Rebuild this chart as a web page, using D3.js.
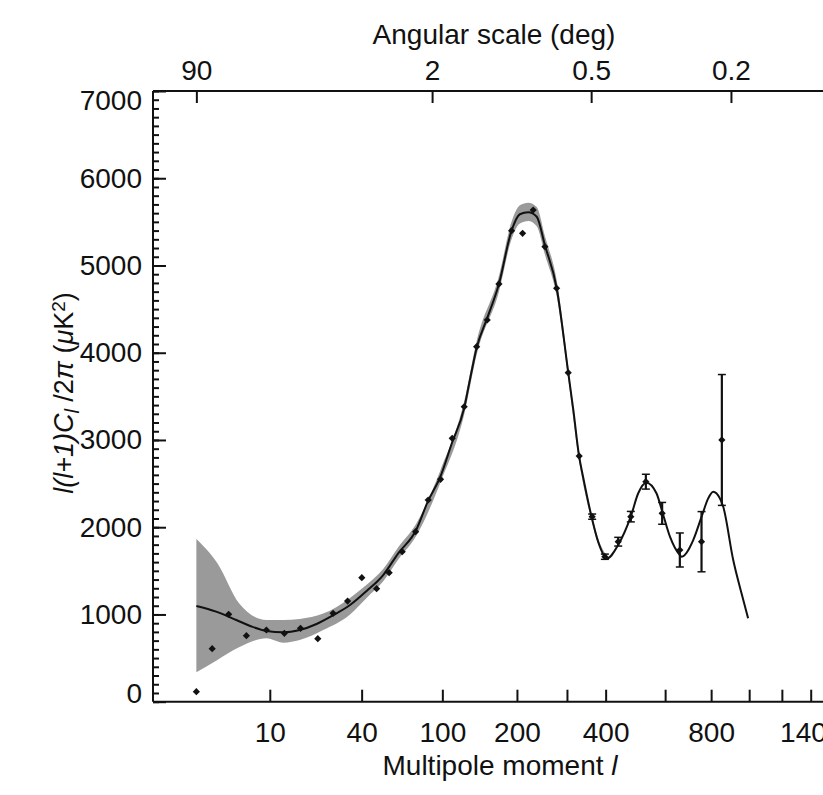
<!DOCTYPE html>
<html>
<head>
<meta charset="utf-8">
<script src="https://cdn.jsdelivr.net/npm/d3@7"></script>
<style>
  body { margin: 0; background: #fff; }
  text { font-family: "Liberation Sans Narrow", "Liberation Sans", Arial, sans-serif; fill: #111; }
</style>
</head>
<body>
<div class="chart"></div>
<script>
// model curve (multipole l, uK^2)
const curveL = [2, 3.3, 5.2, 6.9, 9.4, 12.7, 16.6, 21.5, 27.5, 34.4, 42.6, 52.2, 62.2, 76, 86, 98, 110, 124, 131, 140, 154, 171, 191, 205, 220, 236, 252, 277, 303, 315, 329, 339, 361, 379, 404, 437, 477, 502, 530, 567, 589, 619, 659, 667, 717, 755, 786, 810, 843, 860, 912, 957, 994];
const curveV = [1097, 1032, 936, 868, 810, 795, 822, 891, 994, 1108, 1269, 1452, 1701, 1968, 2293, 2579, 2962, 3363, 3688, 4069, 4400, 4788, 5400, 5587, 5610, 5559, 5235, 4739, 3771, 3344, 2816, 2579, 2121, 1834, 1643, 1796, 2121, 2389, 2510, 2389, 2178, 1891, 1682, 1662, 1853, 2121, 2331, 2407, 2331, 2235, 1624, 1242, 956];

// grey cosmic variance band
const bandL  = [2, 3.4, 5.5, 9.4, 12.7, 16.6, 23.7, 34.4, 42.6, 52.2, 62.2, 76, 98, 124, 140, 171, 191, 205, 220, 236, 252, 277, 303, 329, 361, 379, 404];
const bandLo = [337, 478, 623, 727, 677, 707, 822, 1000, 1190, 1380, 1630, 1900, 2510, 3290, 3990, 4700, 5300, 5480, 5510, 5450, 5130, 4650, 3700, 2760, 2080, 1800, 1620];
const bandHi = [1865, 1586, 1128, 936, 936, 948, 1010, 1190, 1340, 1520, 1770, 2040, 2650, 3440, 4150, 4880, 5500, 5690, 5720, 5670, 5340, 4830, 3840, 2870, 2160, 1870, 1670];

// binned data points
const pointL   = [2, 3, 4.4, 6.4, 9.4, 12.9, 16.8, 21.9, 27.3, 33.3, 40.1, 48.2, 56, 65.1, 75.5, 86.4, 98.2, 110.4, 124.1, 139.6, 153.9, 171, 191, 209.8, 229.2, 252.2, 276.8, 302.9, 329.3, 362.7, 397.8, 437.3, 477.3, 528.5, 588.5, 659.3, 754.6, 853];
const pointV   = [115, 608, 1002, 757, 822, 784, 841, 722, 1013, 1154, 1421, 1295, 1479, 1719, 1949, 2312, 2549, 3019, 3381, 4069, 4375, 4788, 5399, 5369, 5636, 5216, 4739, 3771, 2816, 2121, 1662, 1834, 2121, 2522, 2159, 1739, 1834, 3000];
const pointErr = [0, 0, 0, 0, 0, 0, 0, 0, 0, 0, 0, 0, 0, 0, 0, 0, 0, 0, 0, 0, 0, 0, 0, 0, 0, 0, 0, 0, 0, 30, 30, 50, 60, 85, 125, 195, 345, 750];

const bottomTicks  = [10, 40, 100, 200, 300, 400, 600, 800, 1000, 1200, 1400];
const bottomLabels = [10, 40, 100, 200, 400, 800, 1400];
const angleTicks   = [90, 2, 0.5, 0.2];

const W = 823, H = 795;
const plotLeft = 153, plotTop = 91, plotBottom = 701.7;

const svg = d3.select('.chart').append('svg')
    .attr('width', W).attr('height', H);

const x = d3.scalePow().exponent(0.25)
    .domain([10, 1400])
    .range([269.8, 810.7]);

const y = d3.scaleLinear()
    .domain([0, 7000])
    .range([plotBottom, plotTop]);

// band
const band = bandL.map((l, i) => ({l: l, lo: bandLo[i], hi: bandHi[i]}));
svg.append('path')
    .datum(band)
    .attr('fill', '#9a9a9a')
    .attr('d', d3.area()
        .x(d => x(d.l)).y0(d => y(d.lo)).y1(d => y(d.hi))
        .curve(d3.curveMonotoneX));

// model curve
const model = curveL.map((l, i) => ({l: l, v: curveV[i]}));
svg.append('path')
    .datum(model)
    .attr('fill', 'none')
    .attr('stroke', '#111')
    .attr('stroke-width', 2)
    .attr('d', d3.line().x(d => x(d.l)).y(d => y(d.v)).curve(d3.curveMonotoneX));

// data
const pts = pointL.map((l, i) => ({l: l, v: pointV[i], e: pointErr[i]}));
const errs = svg.append('g').selectAll('g')
    .data(pts.filter(d => d.e > 0))
    .join('g')
    .attr('stroke', '#111');
errs.append('line')
    .attr('stroke-width', 2.2)
    .attr('x1', d => x(d.l)).attr('x2', d => x(d.l))
    .attr('y1', d => y(d.v - d.e)).attr('y2', d => y(d.v + d.e));
errs.append('line')
    .attr('stroke-width', 1.5)
    .attr('x1', d => x(d.l) - 4).attr('x2', d => x(d.l) + 4)
    .attr('y1', d => y(d.v + d.e)).attr('y2', d => y(d.v + d.e));
errs.append('line')
    .attr('stroke-width', 1.5)
    .attr('x1', d => x(d.l) - 4).attr('x2', d => x(d.l) + 4)
    .attr('y1', d => y(d.v - d.e)).attr('y2', d => y(d.v - d.e));

svg.append('g').selectAll('path')
    .data(pts)
    .join('path')
    .attr('d', d3.symbol(d3.symbolSquare, 26))
    .attr('transform', d => `translate(${x(d.l)},${y(d.v)}) rotate(45)`)
    .attr('fill', '#111');

// frame lines
svg.append('line').attr('x1', plotLeft).attr('x2', W).attr('y1', plotTop).attr('y2', plotTop)
    .attr('stroke', '#111').attr('stroke-width', 2);
svg.append('line').attr('x1', plotLeft).attr('x2', W).attr('y1', plotBottom).attr('y2', plotBottom)
    .attr('stroke', '#111').attr('stroke-width', 2);
svg.append('line').attr('x1', plotLeft).attr('x2', plotLeft).attr('y1', plotTop).attr('y2', plotBottom)
    .attr('stroke', '#111').attr('stroke-width', 2);

// bottom axis
const xAxis = d3.axisBottom(x)
    .tickValues(bottomTicks)
    .tickSize(-12)
    .tickPadding(20)
    .tickFormat(d => bottomLabels.includes(d) ? d : '');
svg.append('g')
    .attr('class', 'axis x-axis')
    .attr('transform', `translate(0,${plotBottom})`)
    .call(xAxis);

// top axis, angular scale theta = 180/l
const topAxis = d3.axisTop(x)
    .tickValues(angleTicks.map(a => 180 / a))
    .tickSize(-12)
    .tickPadding(11)
    .tickFormat((d, i) => angleTicks[i]);
svg.append('g')
    .attr('class', 'axis top-axis')
    .attr('transform', `translate(0,${plotTop})`)
    .call(topAxis);

// left axis
const yAxis = d3.axisLeft(y)
    .tickValues(d3.range(0, 7001, 1000))
    .tickSize(-13)
    .tickPadding(11)
    .tickFormat(d3.format('d'));
const gy = svg.append('g')
    .attr('class', 'axis y-axis')
    .attr('transform', `translate(${plotLeft},0)`)
    .call(yAxis);
gy.selectAll('.tick text')
    .attr('transform', d => d === 0 ? 'translate(0,-8)' : d === 7000 ? 'translate(0,10)' : null);

svg.append('g')
    .attr('transform', `translate(${plotLeft},0)`)
    .call(d3.axisLeft(y).tickValues(d3.range(0, 7001, 100)).tickSize(-6).tickFormat(''));

svg.selectAll('.domain').remove();
svg.selectAll('.tick line').attr('stroke', '#111').attr('stroke-width', 2);
svg.selectAll('.axis .tick text')
    .attr('font-size', 28)
    .attr('font-family', '"Liberation Sans Narrow", "Liberation Sans", sans-serif')
    .attr('fill', '#111');

// titles
svg.append('text')
    .attr('x', 494).attr('y', 44)
    .attr('text-anchor', 'middle')
    .attr('font-size', 28)
    .text('Angular scale (deg)');

const xt = svg.append('text')
    .attr('x', 500).attr('y', 775)
    .attr('text-anchor', 'middle')
    .attr('font-size', 28);
xt.append('tspan').text('Multipole moment ');
xt.append('tspan').attr('font-style', 'italic').text('l');

const yt = svg.append('text')
    .attr('transform', 'translate(73,393) rotate(-90)')
    .attr('text-anchor', 'middle')
    .attr('font-size', 27);
yt.append('tspan').attr('font-style', 'italic').text('l(l+1)C');
yt.append('tspan').attr('font-style', 'italic').attr('font-size', 20).attr('dy', 6).text('l');
yt.append('tspan').attr('dy', -6).text(' /2');
yt.append('tspan').attr('font-style', 'italic').text('π');
yt.append('tspan').text(' (');
yt.append('tspan').attr('font-style', 'italic').text('μ');
yt.append('tspan').text('K');
yt.append('tspan').attr('font-size', 19).attr('dy', -8).text('2');
yt.append('tspan').attr('dy', 8).text(')');
</script>
</body>
</html>
